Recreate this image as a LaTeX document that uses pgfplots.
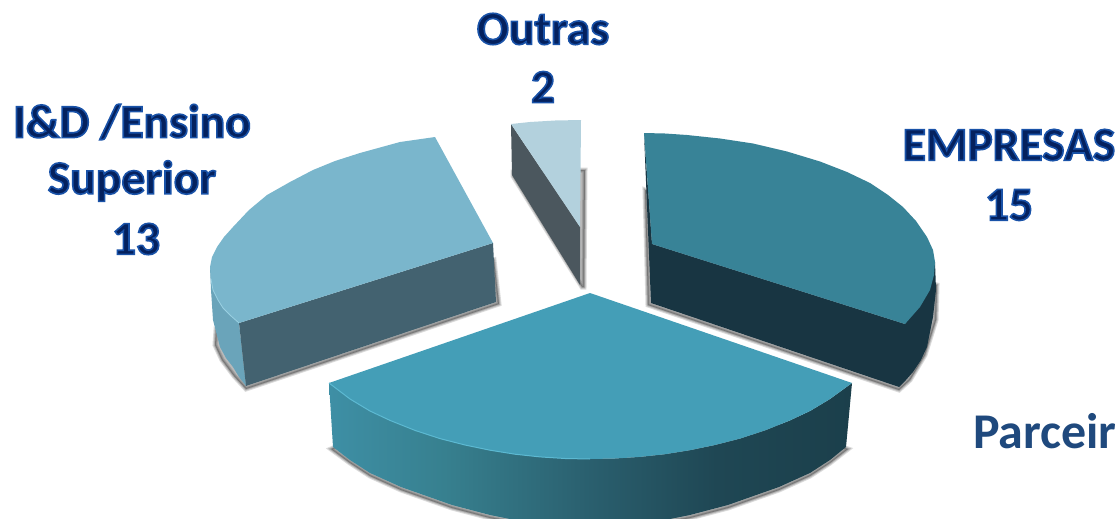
\documentclass[border=0pt]{standalone}
\usepackage{pgfplots}
\pgfplotsset{compat=1.18}
\usepackage{fontspec}
\setmainfont{Carlito}
\definecolor{navy}{HTML}{04215E}
\definecolor{parc}{HTML}{1F497D}
\definecolor{idtop}{HTML}{7AB6CC}
\definecolor{idfront}{HTML}{436270}
\definecolor{idside}{HTML}{6AA4BA}
\definecolor{outtop}{HTML}{B3D1DD}
\definecolor{outside}{HTML}{4B575E}
\definecolor{emptop}{HTML}{388397}
\definecolor{empside}{HTML}{183542}
\definecolor{midtop}{HTML}{449EB7}
\definecolor{midedge}{HTML}{5CB9D2}
\definecolor{idedge}{HTML}{9AD0E2}
\definecolor{gA}{HTML}{3E8FA5}
\definecolor{gB}{HTML}{37808F}
\definecolor{gC}{HTML}{2A5F6E}
\definecolor{gD}{HTML}{1F4754}
\definecolor{gE}{HTML}{1B3F4B}
\pgfdeclarehorizontalshading{midgrad}{100bp}{
 color(0bp)=(gA);
 color(25bp)=(gA);
 color(36bp)=(gB);
 color(50bp)=(gC);
 color(62bp)=(gD);
 color(75bp)=(gE);
 color(100bp)=(gE)}
\newcommand{\lbl}[1]{\special{pdf:code q 2 Tr 1.6 w 0.10 0.32 0.66 RG}{#1}\special{pdf:code Q}}
\begin{document}
\begin{tikzpicture}
\useasboundingbox (0,0) rectangle (1120pt,519pt);
\begin{axis}[
  at={(0,0)}, anchor=south west,
  scale only axis, width=1120pt, height=519pt,
  xmin=0, xmax=1120, ymin=0, ymax=519, y dir=reverse,
  hide axis, clip=true]
% shadows
\pgfplotsinvokeforeach{5,3,1.5}{
\addplot[draw=black, opacity=.14, line width=#1pt, fill=black, fill opacity=.1] coordinates {(513,176)(582,287)(584,287)(585,170)(580,170)(513,172)} -- cycle;
\addplot[draw=black, opacity=.14, line width=#1pt, fill=black, fill opacity=.1] coordinates {(645,190)(648,305)(899,390)(910,380)(925,355)(936,320)(937,285)(800,250)} -- cycle;
\addplot[draw=black, opacity=.14, line width=#1pt, fill=black, fill opacity=.1] coordinates {(246,389)(499,304)(494,260)(240,340)(216,330)(215,345)(222,360)(234,376)} -- cycle;
\addplot[draw=black, opacity=.14, line width=#1pt, fill=black, fill opacity=.1] coordinates {(331,449)(350,463)(370,476)(401,490)(452,508)(490,518)(510,522)(670,522)(690,518)(728,508)(779,490)(810,476)(830,463)(848,449)(700,400)(450,400)} -- cycle;
}
% Outras
\addplot[draw=none, fill=outside] coordinates {(511,124)(580,227)(580,285)(512,175)} -- cycle;
\addplot[draw=none, fill=outtop] coordinates {(511,124)(530,122)(555,120.5)(581,120)(580,227)} -- cycle;
% I&D
\addplot[draw=none, fill=idside] coordinates {(210,267)(211,290)(213,320)(220,347)(226,358)(233,367)(239,377)(246,386)(239,323)} -- cycle;
\addplot[draw=none, fill=idfront] coordinates {(239,323)(493,243)(496,302)(246,386)} -- cycle;
\addplot[draw=none, fill=idtop] coordinates {(435,137)(400,142)(360,153)(335,161)(313,170)(290,182)(267,195)(249,210)(233,227)(224,237)(217,247)(212,257)(210,267)(211,279)(213,290)(218,300)(223,308)(231,316)(239,323)(493,243)} -- cycle;
\addplot[idedge, line width=.8pt] coordinates {(211,279)(213,290)(218,300)(223,308)(231,316)(239,323)};
% Empresas
\addplot[draw=none, fill=empside] coordinates {(644,133)(652,244)(905,324)(935,262)(936,290)(933,317)(927,347)(921,360)(913,372)(906,380)(899,387)(651,303)} -- cycle;
\addplot[draw=none, fill=emptop] coordinates {(644,133)(665,133.5)(687,135)(720,138.5)(753,143.5)(787,151.5)(820,161.5)(847,172)(870,183)(888,195)(903,207)(916,221)(927,237)(933,250)(935,262)(934,275)(930,290)(920,307)(905,324)(652,244)} -- cycle;
% Middle slice side with gradient
\addplot[draw=none, shading=midgrad] coordinates {(329,383)(350,399)(370,411)(390,420.4)(415,430.4)(440,438.6)(465,445)(490,450.2)(515,454.2)(540,456.9)(565,458.5)(590,459)(615,458.5)(640,456.9)(665,454.2)(690,450.2)(715,445)(740,438.6)(765,430.4)(790,420.4)(810,411)(830,399)(852,383)(846,447)(830,460)(810,473)(779,487)(728,505)(690,515)(670,519)(510,519)(490,515)(452,505)(401,487)(370,473)(350,460)(333,447)} -- cycle;
\addplot[draw=none, fill=midtop] coordinates {(590,293)(852,383)(830,399)(810,411)(790,420.4)(765,430.4)(740,438.6)(715,445)(690,450.2)(665,454.2)(640,456.9)(615,458.5)(590,459)(565,458.5)(540,456.9)(515,454.2)(490,450.2)(465,445)(440,438.6)(415,430.4)(390,420.4)(370,411)(350,399)(329,383)} -- cycle;
\addplot[midedge, line width=1pt] coordinates {(329,383)(350,399)(370,411)(390,420.4)(415,430.4)(440,438.6)(465,445)(490,450.2)(515,454.2)(540,456.9)(565,458.5)(590,459)};
% labels
\node[text=navy, font=\fontsize{47.5}{50}\selectfont\bfseries, anchor=center] at (axis cs:543,29) {\lbl{Outras}};
\node[text=navy, font=\fontsize{47.5}{50}\selectfont\bfseries, anchor=center] at (axis cs:543,87) {\lbl{2}};
\node[text=navy, font=\fontsize{47.5}{50}\selectfont\bfseries, anchor=center] at (axis cs:132,122) {\lbl{I\&D /Ensino}};
\node[text=navy, font=\fontsize{47.5}{50}\selectfont\bfseries, anchor=center] at (axis cs:132,181) {\lbl{Superior}};
\node[text=navy, font=\fontsize{47.5}{50}\selectfont\bfseries, anchor=center] at (axis cs:136,239) {\lbl{13}};
\node[text=navy, font=\fontsize{47.5}{50}\selectfont\bfseries, anchor=center] at (axis cs:1009,145) {\lbl{EMPRESAS}};
\node[text=navy, font=\fontsize{47.5}{50}\selectfont\bfseries, anchor=center] at (axis cs:1009,205) {\lbl{15}};
\node[text=parc, font=\fontsize{50}{54}\selectfont\bfseries, anchor=base west, inner sep=0pt] at (axis cs:973,448) {Parceir};
\end{axis}
\end{tikzpicture}
\end{document}
